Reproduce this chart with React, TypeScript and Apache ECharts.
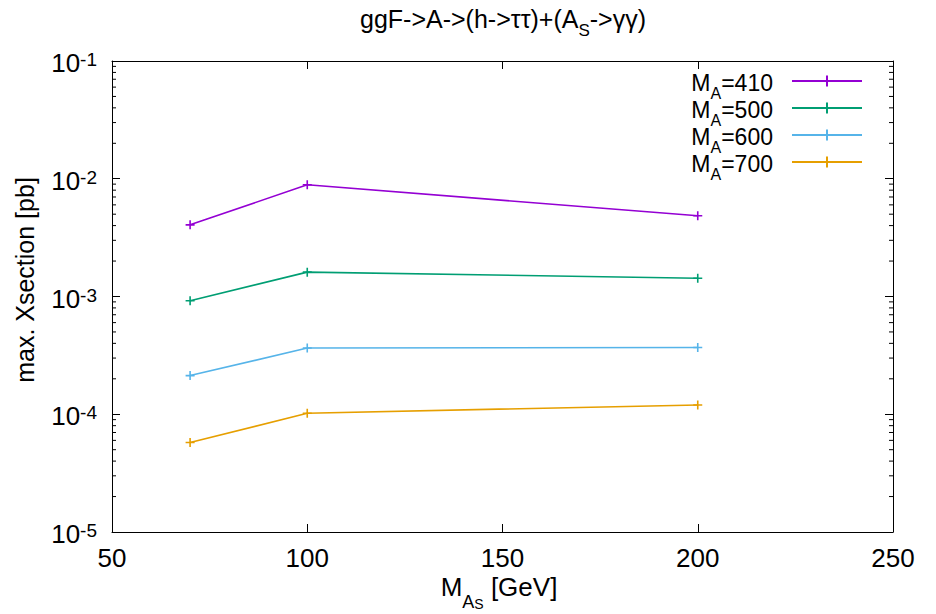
import React, { useEffect, useRef } from 'react';
import * as echarts from 'echarts';

const massAS = [70, 100, 200];
const xsMA410 = [4.06e-3, 8.89e-3, 4.85e-3];
const xsMA500 = [9.19e-4, 1.61e-3, 1.43e-3];
const xsMA600 = [2.13e-4, 3.65e-4, 3.69e-4];
const xsMA700 = [5.75e-5, 1.02e-4, 1.2e-4];
const massA = ['410', '500', '600', '700'];
const seriesColors = ['#9400d3', '#009e73', '#56b4e9', '#e69f00'];
const xMin = 50;
const xMax = 250;
const xStep = 50;
const yMin = 1e-5;
const yMax = 1e-1;
const minorMantissas = [2, 3, 4, 5, 6, 7, 8, 9];
const minorDecades = [-5, -4, -3, -2];

const FONT = '"Liberation Sans", Arial, Helvetica, sans-serif';
const GL = 112;
const GR = 893;
const GT = 61;
const GB = 532;

export default function App() {
  const ref = useRef<HTMLDivElement>(null);
  useEffect(() => {
    if (!ref.current) return;
    const chart = echarts.init(ref.current, undefined, { renderer: 'svg' });
    const allData = [xsMA410, xsMA500, xsMA600, xsMA700];
    const plusSymbol = 'path://M0,5L10,5M5,0L5,10';
    const series = allData.map((vals, i) => ({
      type: 'line',
      name: 'MA=' + massA[i],
      data: massAS.map((x, j) => [x, vals[j]]),
      symbol: plusSymbol,
      symbolSize: 9,
      showSymbol: true,
      lineStyle: { color: seriesColors[i], width: 1.6 },
      itemStyle: { color: seriesColors[i], borderColor: seriesColors[i], borderWidth: 1.6 },
      emphasis: { disabled: true },
    }));
    const tickStyle = { color: '#000', width: 1 };
    const yRich = {
      b: { fontSize: 26, fontFamily: FONT, color: '#000', lineHeight: 30, padding: [4, 0, 0, 0], verticalAlign: 'top' },
      sup: { fontSize: 19, fontFamily: FONT, color: '#000', lineHeight: 16, padding: [4, 0, 0, 0], verticalAlign: 'top' },
    };
    const legendRich = {
      b: { fontSize: 23, fontFamily: FONT, color: '#000', lineHeight: 20, verticalAlign: 'top' },
      sub: { fontSize: 16, fontFamily: FONT, color: '#000', lineHeight: 10, padding: [14, 0, 0, 0], verticalAlign: 'top' },
    };
    const option: any = {
      animation: false,
      grid: { left: GL, right: 936 - GR, top: GT, bottom: 614 - GB, containLabel: false },
      xAxis: [
        {
          type: 'value', min: xMin, max: xMax, interval: xStep, position: 'bottom',
          axisLine: { lineStyle: { color: '#000', width: 1 } },
          axisTick: { inside: true, length: 8, lineStyle: tickStyle },
          axisLabel: { color: '#000', fontSize: 26, fontFamily: FONT, margin: 13 },
          splitLine: { show: false },
        },
        {
          type: 'value', min: xMin, max: xMax, interval: xStep, position: 'top',
          axisLine: { lineStyle: { color: '#000', width: 1 } },
          axisTick: { inside: true, length: 8, lineStyle: tickStyle },
          axisLabel: { show: false },
          splitLine: { show: false },
        },
      ],
      yAxis: [
        {
          type: 'log', logBase: 10, min: yMin, max: yMax, splitNumber: 4, position: 'left',
          axisLine: { show: true, lineStyle: { color: '#000', width: 1 } },
          axisTick: { show: true, inside: true, length: 8, lineStyle: tickStyle },
          axisLabel: {
            margin: 15,
            formatter: (v: number) => '{b|10}{sup|' + Math.round(Math.log10(v)) + '}',
            rich: yRich,
          },
          splitLine: { show: false },
        },
        {
          type: 'log', logBase: 10, min: yMin, max: yMax, splitNumber: 4, position: 'right',
          axisLine: { show: true, lineStyle: { color: '#000', width: 1 } },
          axisTick: { show: true, inside: true, length: 8, lineStyle: tickStyle },
          axisLabel: { show: false },
          splitLine: { show: false },
        },
      ],
      legend: {
        orient: 'vertical',
        right: 68,
        top: 66,
        align: 'right',
        itemWidth: 70,
        itemHeight: 14,
        itemGap: -3,
        selectedMode: false,
        data: series.map((s) => s.name),
        formatter: (name: string) => '{b|M}{sub|A}{b|=' + name.slice(3) + '}',
        textStyle: { rich: legendRich, padding: [0, 14, 0, 0] },
      },
      series,
      graphic: [
        {
          type: 'text', x: 503, y: 19,
          style: {
            text: '{t|ggF->A->(h->ττ)+(A}{ts|S}{t|->γγ)}',
            align: 'center', verticalAlign: 'middle',
            rich: {
              t: { fontSize: 25, fontFamily: FONT, color: '#000', lineHeight: 26, verticalAlign: 'top' },
              ts: { fontSize: 17, fontFamily: FONT, color: '#000', lineHeight: 10, padding: [16, 0, 0, 0], verticalAlign: 'top' },
            },
          },
        },
        {
          type: 'text', x: 25, y: 280, rotation: Math.PI / 2,
          style: {
            text: 'max. Xsection [pb]', align: 'center', verticalAlign: 'middle',
            fontSize: 25, fontFamily: FONT, fill: '#000',
          },
        },
        {
          type: 'text', x: 499, y: 574,
          style: {
            text: '{b|M}{sub|A}{ss|S}{b| [GeV]}', align: 'center', verticalAlign: 'top',
            rich: {
              b: { fontSize: 26, fontFamily: FONT, color: '#000', lineHeight: 30, verticalAlign: 'top' },
              sub: { fontSize: 18, fontFamily: FONT, color: '#000', lineHeight: 10, padding: [19, 0, 0, 0], verticalAlign: 'top' },
              ss: { fontSize: 14, fontFamily: FONT, color: '#000', lineHeight: 8, padding: [23, 0, 0, 0], verticalAlign: 'top' },
            },
          },
        },
      ],
    };
    chart.setOption(option);
    const minor: any[] = [];
    minorDecades.forEach((e) => {
      minorMantissas.forEach((m) => {
        const v = m * Math.pow(10, e);
        const y = chart.convertToPixel({ yAxisIndex: 0 }, v) as number;
        minor.push({ type: 'line', shape: { x1: GL, y1: y, x2: GL + 4, y2: y }, style: { stroke: '#000', lineWidth: 1 }, silent: true });
        minor.push({ type: 'line', shape: { x1: GR - 4, y1: y, x2: GR, y2: y }, style: { stroke: '#000', lineWidth: 1 }, silent: true });
      });
    });
    chart.setOption({ graphic: [...option.graphic, ...minor] });
    return () => chart.dispose();
  }, []);
  return <div ref={ref} style={{ width: 936, height: 614, position: 'absolute', left: 0, top: 0 }} />;
}
